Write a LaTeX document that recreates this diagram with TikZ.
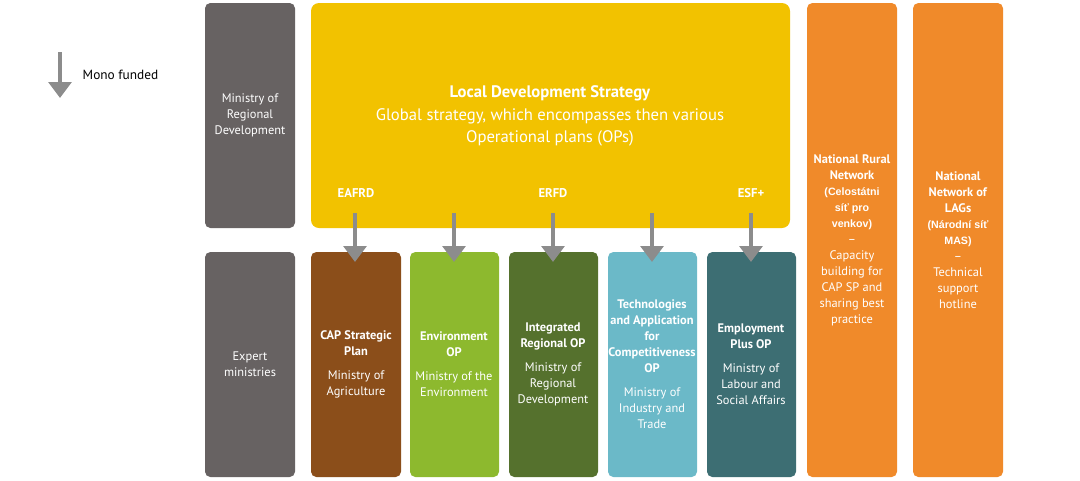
\documentclass[tikz,border=0pt]{standalone}
\usepackage{fontspec}
\setmainfont{PT Sans}
\newfontfamily\arialfont{Liberation Sans}
\usetikzlibrary{arrows.meta,positioning}
\definecolor{mingray}{HTML}{676262}
\definecolor{ldsyellow}{HTML}{F2C200}
\definecolor{capbrown}{HTML}{8B4E1A}
\definecolor{envlime}{HTML}{8DB92E}
\definecolor{iropgreen}{HTML}{55712D}
\definecolor{tacblue}{HTML}{6BB9C8}
\definecolor{empteal}{HTML}{3D6E73}
\definecolor{netorange}{HTML}{F08A2A}
\definecolor{arrgray}{HTML}{8C8C8C}
\tikzset{
  box/.style={rounded corners=4pt, draw=none, text=white, align=center,
    font=\fontsize{9.3}{12}\selectfont},
  fund/.style={arrgray, line width=3pt, -{Triangle[length=12pt,width=17pt]}},
}
\begin{document}
\begin{tikzpicture}[x=0.75pt,y=-0.75pt]
\useasboundingbox (0,0) rectangle (1080,480);
% left column
\fill[mingray,rounded corners=4pt] (205,3) rectangle (295,228);
\node[box] (mrd) at (250,115) {Ministry of\\Regional\\Development};
\fill[mingray,rounded corners=4pt] (205,252) rectangle (295,477);
\node[box] (exp) at (250,364) {Expert\\ministries};
% strategy
\fill[ldsyellow,rounded corners=6pt] (311,3) rectangle (790,228);
\node[box,font=\fontsize{12.5}{17}\selectfont] (lds) at (550,116)
  {\textbf{Local Development Strategy}\\Global strategy, which encompasses then various\\Operational plans (OPs)};
\node[box,font=\bfseries\fontsize{9.5}{11}\selectfont] (eafrd) at (356,193) {EAFRD};
\node[box,font=\bfseries\fontsize{9.5}{11}\selectfont] (erfd) at (553,193) {ERFD};
\node[box,font=\bfseries\fontsize{9.5}{11}\selectfont] (esf) at (751,193) {ESF+};
% operational plans
\fill[capbrown,rounded corners=4pt] (311,252) rectangle (401,477);
\node[box] (cap) at (356,364) {\textbf{CAP Strategic}\\\textbf{Plan}\\[6pt]Ministry of\\Agriculture};
\fill[envlime,rounded corners=4pt] (410,252) rectangle (499,477);
\node[box] (env) at (454,364) {\textbf{Environment}\\\textbf{OP}\\[6pt]Ministry of the\\Environment};
\fill[iropgreen,rounded corners=4pt] (509,252) rectangle (598,477);
\node[box] (irop) at (553,364) {\textbf{Integrated}\\\textbf{Regional OP}\\[6pt]Ministry of\\Regional\\Development};
\fill[tacblue,rounded corners=4pt] (608,252) rectangle (697,477);
\node[box] (tac) at (652,364) {\textbf{Technologies}\\\textbf{and Application}\\\textbf{for}\\\textbf{Competitiveness}\\\textbf{OP}\\[6pt]Ministry of\\Industry and\\Trade};
\fill[empteal,rounded corners=4pt] (707,252) rectangle (796,477);
\node[box] (emp) at (751,364) {\textbf{Employment}\\\textbf{Plus OP}\\[6pt]Ministry of\\Labour and\\Social Affairs};
% networks
\fill[netorange,rounded corners=4pt] (807,3) rectangle (897,477);
\node[box] (nrn) at (852,240) {\textbf{National Rural}\\\textbf{Network}\\{\arialfont\bfseries\fontsize{8}{12}\selectfont(Celostátni}\\{\arialfont\bfseries\fontsize{8}{12}\selectfont síť pro}\\{\arialfont\bfseries\fontsize{8}{12}\selectfont venkov)}\\--\\Capacity\\building for\\CAP SP and\\sharing best\\practice};
\fill[netorange,rounded corners=4pt] (913,3) rectangle (1003,477);
\node[box] (nlag) at (958,240) {\textbf{National}\\\textbf{Network of}\\\textbf{LAGs}\\{\arialfont\bfseries\fontsize{8}{12}\selectfont(Národní síť}\\{\arialfont\bfseries\fontsize{8}{12}\selectfont MAS)}\\--\\Technical\\support\\hotline};
% funding arrows
\foreach \x/\t in {355/cap,454/env,553/irop,652/tac,751/emp}
  \draw[fund] (\x,213) -- (\x,262);
% legend
\coordinate (lgtop) at (60,52);
\coordinate (lgbot) at (60,98);
\draw[fund] (lgtop) -- (lgbot);
\node[anchor=west,font=\fontsize{10}{12}\selectfont] (lgtext) at (78,75) {Mono funded};
\end{tikzpicture}
\end{document}
